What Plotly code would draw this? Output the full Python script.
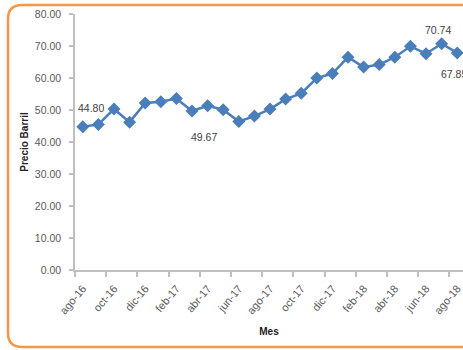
import plotly.graph_objects as go

months = ["ago-16", "sep-16", "oct-16", "nov-16", "dic-16", "ene-17", "feb-17", "mar-17",
          "abr-17", "may-17", "jun-17", "jul-17", "ago-17", "sep-17", "oct-17", "nov-17",
          "dic-17", "ene-18", "feb-18", "mar-18", "abr-18", "may-18", "jun-18", "jul-18", "ago-18"]
precio = [44.80, 45.5, 50.3, 46.2, 52.2, 52.6, 53.6, 49.67, 51.3, 50.1, 46.4, 48.1, 50.3,
          53.4, 55.2, 60.0, 61.4, 66.5, 63.4, 64.2, 66.5, 69.9, 67.6, 70.74, 67.85]
labeled = {0: (8, 19), 7: (12, -26), 23: (-4, 14), 24: (-3, -21)}  # index -> (xshift, yshift)

W, H = 463, 350
L, R, T, B = 75, 0, 14, 80
pw, ph = W - L - R, H - T - B

idx = list(range(len(months)))
blue = "#4A7EBB"
axis_grey = "#BFBFBF"
txt = "#404040"

fig = go.Figure()
fig.add_trace(go.Scatter(
    x=idx, y=precio, mode="lines+markers",
    line=dict(color=blue, width=2.5),
    marker=dict(symbol="diamond", size=10, color=blue),
    hoverinfo="skip", showlegend=False,
))

for i, (xs, ys) in labeled.items():
    fig.add_annotation(x=i, y=precio[i], text=f"{precio[i]:.2f}", showarrow=False,
                       xshift=xs, yshift=ys,
                       font=dict(family="Liberation Sans", size=10.5, color=txt))

# rounded orange frame (right side cut off by the window)
def px(x):
    return (x - L) / pw
def py(y):
    return (H - B - y) / ph

r = 14
x0, y0, y1, xe = 8, 5, 347, 490
path = (f"M {px(xe)},{py(y0)} L {px(x0 + r)},{py(y0)} Q {px(x0)},{py(y0)} {px(x0)},{py(y0 + r)} "
        f"L {px(x0)},{py(y1 - r)} Q {px(x0)},{py(y1)} {px(x0 + r)},{py(y1)} L {px(xe)},{py(y1)}")
fig.add_shape(type="path", xref="paper", yref="paper", path=path,
              line=dict(color="#F79646", width=2.5), layer="above")

fig.update_layout(
    width=W, height=H,
    margin=dict(l=L, r=R, t=T, b=B),
    paper_bgcolor="white", plot_bgcolor="white",
    font=dict(family="Liberation Sans", size=10, color=txt),
    xaxis=dict(
        range=[-0.5, 24.37],
        tickmode="array", tickvals=idx[::2], ticktext=months[::2],
        tickangle=-50, ticks="", showgrid=False, zeroline=False,
        showline=True, linecolor=axis_grey, linewidth=1.5,
        ticklabelstandoff=6,
        tickfont=dict(size=11, color="#595959"),
        minor=dict(tickmode="array", tickvals=[i - 0.5 for i in idx[::2]],
                   ticks="outside", ticklen=5, tickcolor=axis_grey, tickwidth=1.5, showgrid=False),
        title=dict(text="<b>Mes</b>", font=dict(size=10, color="#222222"), standoff=12),
    ),
    yaxis=dict(
        range=[0, 80], dtick=10, tickformat=".2f",
        showgrid=False, zeroline=False,
        showline=True, linecolor=axis_grey, linewidth=1.5,
        ticks="outside", ticklen=4, tickcolor=axis_grey, tickwidth=1.5,
        ticklabelstandoff=6,
        tickfont=dict(size=10.5, color="#595959"),
        title=dict(text="<b>Precio Barril</b>", font=dict(size=10, color="#222222"), standoff=4),
    ),
)

fig.write_html("out.html")
